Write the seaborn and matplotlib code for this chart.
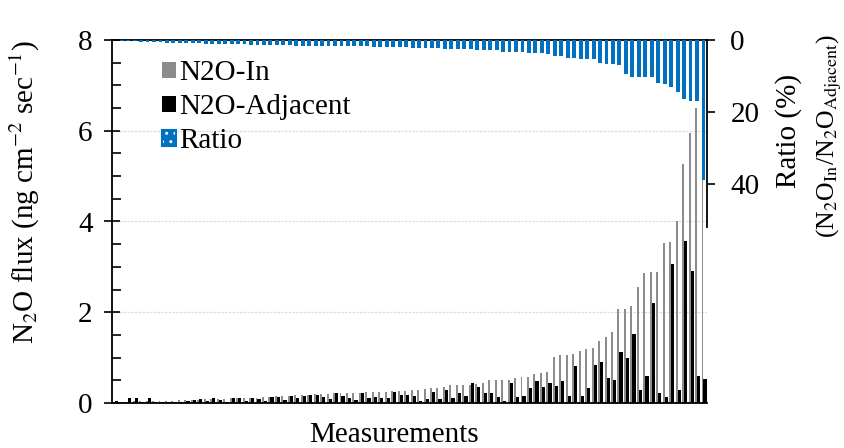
import matplotlib
matplotlib.use("Agg")
import matplotlib.pyplot as plt
import pandas as pd
import seaborn as sns
from matplotlib.patches import Patch
from matplotlib.legend_handler import HandlerTuple
from matplotlib.ticker import FixedLocator, MultipleLocator

# ---------------- data ----------------
measurement = list(range(1, 93))

n2o_in = [0.02, 0.03, 0.03, 0.04, 0.04, 0.04, 0.05, 0.05, 0.05, 0.05,
          0.06, 0.06, 0.07, 0.07, 0.08, 0.08, 0.09, 0.09, 0.10, 0.10,
          0.11, 0.11, 0.12, 0.13, 0.14, 0.15, 0.16, 0.16, 0.17, 0.18,
          0.18, 0.19, 0.20, 0.20, 0.21, 0.21, 0.22, 0.23, 0.23, 0.24,
          0.24, 0.25, 0.25, 0.26, 0.27, 0.27,
          0.28, 0.28, 0.30, 0.34, 0.34, 0.36, 0.39, 0.39, 0.39, 0.40,
          0.41, 0.45, 0.51, 0.51, 0.51, 0.51, 0.56, 0.58, 0.58, 0.64,
          0.67, 0.68, 1.01, 1.05, 1.05, 1.08, 1.15, 1.20, 1.22, 1.37,
          1.46, 1.56, 2.07, 2.07, 2.14, 2.56, 2.87, 2.89, 2.89, 3.53,
          3.55, 4.01, 5.27, 5.95, 6.50, 7.00]

n2o_adjacent = [0.04, 0.02, 0.11, 0.11, 0.03, 0.11, 0.02, 0.03, 0.02, 0.03,
                0.03, 0.04, 0.07, 0.08, 0.04, 0.10, 0.06, 0.03, 0.12, 0.11,
                0.04, 0.10, 0.08, 0.05, 0.13, 0.14, 0.06, 0.15, 0.10, 0.16,
                0.18, 0.18, 0.13, 0.09, 0.21, 0.15, 0.10, 0.07, 0.21, 0.12,
                0.13, 0.12, 0.12, 0.25, 0.17, 0.18,
                0.16, 0.05, 0.08, 0.24, 0.08, 0.29, 0.11, 0.21, 0.15, 0.43,
                0.35, 0.21, 0.21, 0.13, 0.05, 0.43, 0.13, 0.15, 0.32, 0.49,
                0.36, 0.43, 0.37, 0.49, 0.15, 0.81, 0.15, 0.32, 0.84, 0.91,
                0.55, 0.50, 1.12, 0.99, 1.51, 0.29, 0.59, 2.21, 0.23, 0.14,
                3.06, 0.29, 3.57, 2.92, 0.59, 0.52]

ratio = [0.0, 0.4, 0.4, 0.4, 0.6, 0.6, 0.6, 0.6, 0.9, 0.9,
         0.9, 0.9, 0.9, 0.9, 1.1, 1.1, 1.1, 1.1, 1.1, 1.1,
         1.1, 1.3, 1.3, 1.3, 1.3, 1.3, 1.3, 1.3, 1.6, 1.6,
         1.6, 1.6, 1.6, 1.6, 1.8, 1.8, 1.8, 1.8, 1.8, 1.8,
         2.0, 2.0, 2.0, 2.0, 2.0, 2.0, 2.3, 2.3, 2.3, 2.3,
         2.3, 2.6, 2.6, 2.6, 2.6, 2.6, 2.9, 2.9, 2.9, 2.9,
         3.3, 3.3, 3.3, 3.3, 3.7, 3.7, 3.7, 4.0,
         4.4, 4.4, 5.1, 5.1, 5.4, 5.4, 5.4, 6.3, 6.6, 6.6,
         6.9, 9.4, 10.4, 10.4, 10.4, 10.4, 12.0, 12.3, 13.0, 14.6,
         16.5, 16.9, 16.9, 38.9]

series_names = ["N2O-In", "N2O-Adjacent", "Ratio"]
left_ticks = [0, 2, 4, 6, 8]
right_ticks = [0, 20, 40]

GRAY = "#8c8c8c"
BLACK = "#000000"
BLUE = "#0070c0"
FS = 21

# ---------------- style ----------------
sns.set_theme(style="white")
plt.rcParams["font.family"] = ["Liberation Serif", "DejaVu Serif"]
plt.rcParams["mathtext.fontset"] = "stix"
for k in ["text.color", "axes.labelcolor", "xtick.color", "ytick.color"]:
    plt.rcParams[k] = "black"

fig = plt.figure(figsize=(8.45, 4.48), dpi=100)
W, H = 845, 448
ax = fig.add_axes([112 / W, 1 - 403 / H, (706.7 - 112) / W, 363 / H])

df = pd.DataFrame({
    "Measurement": measurement * 2,
    "Flux": n2o_in + n2o_adjacent,
    "Series": [series_names[0]] * len(n2o_in) + [series_names[1]] * len(n2o_adjacent),
})
sns.barplot(data=df, x="Measurement", y="Flux", hue="Series",
            hue_order=series_names[:2],
            palette={series_names[0]: GRAY, series_names[1]: BLACK},
            width=1.0, dodge=True, saturation=1, errorbar=None,
            linewidth=0, legend=False, ax=ax)

# make the grey bars narrower (keep their right edge)
for p in ax.patches:
    fc = p.get_facecolor()
    if abs(fc[0] - fc[2]) < 0.01 and fc[0] > 0.3:
        w = p.get_width()
        p.set_x(p.get_x() + 0.4 * w)
        p.set_width(0.6 * w)

ax.set_ylim(0, 8)
ax.yaxis.set_major_locator(FixedLocator(left_ticks))
ax.yaxis.set_minor_locator(MultipleLocator(0.5))
ax.tick_params(axis="y", which="major", left=True, direction="inout",
               length=12, width=1.2, color="black", labelsize=FS, pad=8)
ax.tick_params(axis="y", which="minor", left=True, direction="in",
               length=6.5, width=1.2, color="black")
ax.tick_params(axis="x", bottom=False, labelbottom=False)
ax.set_xlabel("")
ax.set_ylabel("")
ax.grid(axis="y", which="major", color="#dcdcdc", lw=0.9, ls=(0, (2, 1)))
ax.set_axisbelow(True)
for s in ["left", "bottom", "top"]:
    ax.spines[s].set_visible(True)
    ax.spines[s].set_color("black")
    ax.spines[s].set_linewidth(1.3)
ax.spines["right"].set_visible(False)

# ---------------- ratio on secondary (inverted) axis ----------------
ax2 = ax.twinx()
sns.barplot(x=measurement, y=ratio, color=BLUE, width=0.6, saturation=1,
            errorbar=None, linewidth=0, ax=ax2)
ax2.set_ylim(101, 0)
ax2.yaxis.set_major_locator(FixedLocator(right_ticks))
ax2.tick_params(axis="y", which="major", right=True, left=False, direction="out",
                length=6, width=1.2, color="black", labelsize=FS, pad=11)
ax2.tick_params(axis="x", bottom=False, labelbottom=False)
ax2.set_xlabel("")
ax2.set_ylabel("")
for s in ["left", "bottom", "top"]:
    ax2.spines[s].set_visible(False)
ax2.spines["right"].set_visible(True)
ax2.spines["right"].set_color("black")
ax2.spines["right"].set_linewidth(1.3)
ax2.spines["right"].set_bounds(0, 52)
ax2.grid(False)

# ---------------- labels ----------------
fig.text(25 / W, 1 - 192 / H, "N$_2$O flux (ng cm$^{-2}$ sec$^{-1}$)",
         rotation=90, ha="center", va="center", fontsize=FS)
fig.text(789 / W, 1 - 131 / H, "Ratio (%)",
         rotation=90, ha="center", va="center", fontsize=FS)
fig.text(829 / W, 1 - 136 / H,
         "(N$_2$O$_{\\mathrm{In}}$/N$_2$O$_{\\mathrm{Adjacent}}$)",
         rotation=90, ha="center", va="center", fontsize=18.5)
fig.text(394 / W, 1 - 435 / H, "Measurements", ha="center", va="center",
         fontsize=FS)

# ---------------- legend ----------------
handles = [
    Patch(facecolor=GRAY, edgecolor="none"),
    Patch(facecolor=BLACK, edgecolor="none"),
    (Patch(facecolor=BLUE, edgecolor="white", hatch="..", lw=0),
     Patch(facecolor="none", edgecolor=BLUE, lw=1.5)),
]
fig.legend(handles, series_names, loc="upper left",
           bbox_to_anchor=(162 / W, 1 - 60 / H), bbox_transform=fig.transFigure,
           frameon=False, fontsize=FS, handlelength=0.47, handleheight=0.47,
           handletextpad=0.12, labelspacing=0.28, borderpad=0, borderaxespad=0,
           handler_map={tuple: HandlerTuple(ndivide=1, pad=0)})

fig.savefig("out.png", dpi=100)
